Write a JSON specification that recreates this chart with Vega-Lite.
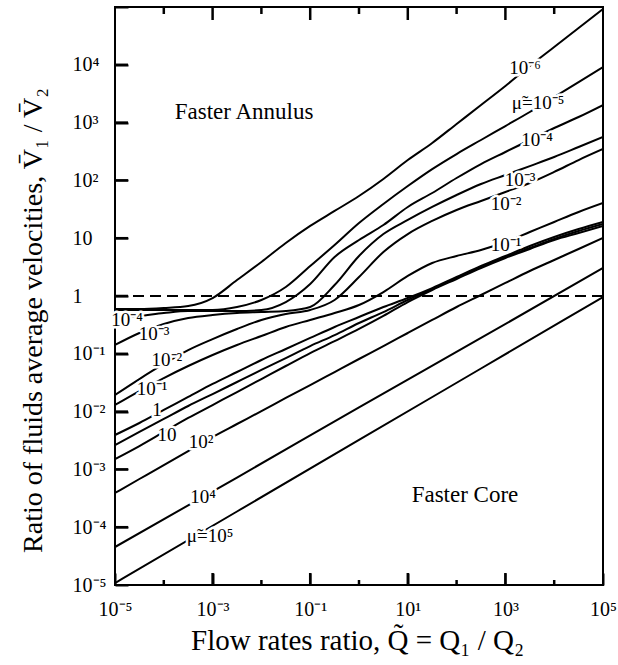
{
  "$schema": "https://vega.github.io/schema/vega-lite/v6.json",
  "width": 488,
  "height": 578,
  "autosize": {"type": "none"},
  "padding": {"left": 115, "top": 7, "right": 15, "bottom": 80},
  "background": "white",
  "config": {"view": {"stroke": "black", "strokeWidth": 2}},
  "datasets": {
    "curves": [
      {"mu":"1e-6","Q":1e-5,"V":0.596},{"mu":"1e-6","Q":3.162e-5,"V":0.596},{"mu":"1e-6","Q":1e-4,"V":0.62},{"mu":"1e-6","Q":3.162e-4,"V":0.671},{"mu":"1e-6","Q":0.001,"V":0.923},{"mu":"1e-6","Q":0.003162,"V":1.89},{"mu":"1e-6","Q":0.01,"V":3.88},{"mu":"1e-6","Q":0.03162,"V":8.26},{"mu":"1e-6","Q":0.1,"V":16.3},{"mu":"1e-6","Q":0.3162,"V":29.6},{"mu":"1e-6","Q":1,"V":53.7},{"mu":"1e-6","Q":3.162,"V":106},{"mu":"1e-6","Q":10,"V":225},{"mu":"1e-6","Q":31.62,"V":444},{"mu":"1e-6","Q":100,"V":946},{"mu":"1e-6","Q":316.2,"V":2015},{"mu":"1e-6","Q":1000,"V":4300},{"mu":"1e-6","Q":3162,"V":9530},{"mu":"1e-6","Q":10000,"V":20300},{"mu":"1e-6","Q":31620,"V":43300},{"mu":"1e-6","Q":100000,"V":92300},
      {"mu":"1e-5","Q":1e-5,"V":0.573},{"mu":"1e-5","Q":3.162e-5,"V":0.573},{"mu":"1e-5","Q":1e-4,"V":0.573},{"mu":"1e-5","Q":3.162e-4,"V":0.573},{"mu":"1e-5","Q":0.001,"V":0.573},{"mu":"1e-5","Q":0.003162,"V":0.645},{"mu":"1e-5","Q":0.01,"V":0.853},{"mu":"1e-5","Q":0.03162,"V":1.43},{"mu":"1e-5","Q":0.1,"V":3.3},{"mu":"1e-5","Q":0.3162,"V":7.62},{"mu":"1e-5","Q":1,"V":18.3},{"mu":"1e-5","Q":3.162,"V":39.1},{"mu":"1e-5","Q":10,"V":80},{"mu":"1e-5","Q":31.62,"V":157},{"mu":"1e-5","Q":100,"V":286},{"mu":"1e-5","Q":316.2,"V":500},{"mu":"1e-5","Q":1000,"V":873},{"mu":"1e-5","Q":3162,"V":1525},{"mu":"1e-5","Q":10000,"V":2773},{"mu":"1e-5","Q":31620,"V":5035},{"mu":"1e-5","Q":100000,"V":9160},
      {"mu":"1e-4","Q":1e-5,"V":0.416},{"mu":"1e-4","Q":3.162e-5,"V":0.451},{"mu":"1e-4","Q":1e-4,"V":0.508},{"mu":"1e-4","Q":3.162e-4,"V":0.55},{"mu":"1e-4","Q":0.001,"V":0.55},{"mu":"1e-4","Q":0.003162,"V":0.55},{"mu":"1e-4","Q":0.01,"V":0.573},{"mu":"1e-4","Q":0.03162,"V":0.787},{"mu":"1e-4","Q":0.1,"V":1.61},{"mu":"1e-4","Q":0.3162,"V":4.73},{"mu":"1e-4","Q":1,"V":9.31},{"mu":"1e-4","Q":3.162,"V":16.9},{"mu":"1e-4","Q":10,"V":34.7},{"mu":"1e-4","Q":31.62,"V":60.5},{"mu":"1e-4","Q":100,"V":110},{"mu":"1e-4","Q":316.2,"V":192},{"mu":"1e-4","Q":1000,"V":310},{"mu":"1e-4","Q":3162,"V":500},{"mu":"1e-4","Q":10000,"V":807},{"mu":"1e-4","Q":31620,"V":1250},{"mu":"1e-4","Q":100000,"V":2015},
      {"mu":"1e-3","Q":1e-5,"V":0.142},{"mu":"1e-3","Q":3.162e-5,"V":0.229},{"mu":"1e-3","Q":1e-4,"V":0.328},{"mu":"1e-3","Q":3.162e-4,"V":0.416},{"mu":"1e-3","Q":0.001,"V":0.469},{"mu":"1e-3","Q":0.003162,"V":0.508},{"mu":"1e-3","Q":0.01,"V":0.528},{"mu":"1e-3","Q":0.03162,"V":0.55},{"mu":"1e-3","Q":0.1,"V":0.645},{"mu":"1e-3","Q":0.3162,"V":1.55},{"mu":"1e-3","Q":1,"V":4.92},{"mu":"1e-3","Q":3.162,"V":11.8},{"mu":"1e-3","Q":10,"V":20.7},{"mu":"1e-3","Q":31.62,"V":34.7},{"mu":"1e-3","Q":100,"V":55.9},{"mu":"1e-3","Q":316.2,"V":86.7},{"mu":"1e-3","Q":1000,"V":124},{"mu":"1e-3","Q":3162,"V":177},{"mu":"1e-3","Q":10000,"V":254},{"mu":"1e-3","Q":31620,"V":378},{"mu":"1e-3","Q":100000,"V":564},
      {"mu":"1e-2","Q":1e-5,"V":0.0194},{"mu":"1e-2","Q":3.162e-5,"V":0.0366},{"mu":"1e-2","Q":1e-4,"V":0.0667},{"mu":"1e-2","Q":3.162e-4,"V":0.116},{"mu":"1e-2","Q":0.001,"V":0.18},{"mu":"1e-2","Q":0.003162,"V":0.269},{"mu":"1e-2","Q":0.01,"V":0.385},{"mu":"1e-2","Q":0.03162,"V":0.489},{"mu":"1e-2","Q":0.1,"V":0.573},{"mu":"1e-2","Q":0.3162,"V":0.853},{"mu":"1e-2","Q":1,"V":2.13},{"mu":"1e-2","Q":3.162,"V":5.77},{"mu":"1e-2","Q":10,"V":11.8},{"mu":"1e-2","Q":31.62,"V":19.9},{"mu":"1e-2","Q":100,"V":30.8},{"mu":"1e-2","Q":316.2,"V":44.1},{"mu":"1e-2","Q":1000,"V":63},{"mu":"1e-2","Q":3162,"V":90.2},{"mu":"1e-2","Q":10000,"V":140},{"mu":"1e-2","Q":31620,"V":225},{"mu":"1e-2","Q":100000,"V":349},
      {"mu":"1e-1","Q":1e-5,"V":0.013},{"mu":"1e-1","Q":3.162e-5,"V":0.0227},{"mu":"1e-1","Q":1e-4,"V":0.0381},{"mu":"1e-1","Q":3.162e-4,"V":0.0615},{"mu":"1e-1","Q":0.001,"V":0.0953},{"mu":"1e-1","Q":0.003162,"V":0.142},{"mu":"1e-1","Q":0.01,"V":0.203},{"mu":"1e-1","Q":0.03162,"V":0.291},{"mu":"1e-1","Q":0.1,"V":0.385},{"mu":"1e-1","Q":0.3162,"V":0.508},{"mu":"1e-1","Q":1,"V":0.698},{"mu":"1e-1","Q":3.162,"V":1.17},{"mu":"1e-1","Q":10,"V":2.22},{"mu":"1e-1","Q":31.62,"V":3.72},{"mu":"1e-1","Q":100,"V":4.92},{"mu":"1e-1","Q":316.2,"V":6.25},{"mu":"1e-1","Q":1000,"V":8.59},{"mu":"1e-1","Q":3162,"V":12.8},{"mu":"1e-1","Q":10000,"V":19.1},{"mu":"1e-1","Q":31620,"V":28.4},{"mu":"1e-1","Q":100000,"V":40.6},
      {"mu":"1","Q":1e-5,"V":0.00394},{"mu":"1","Q":3.162e-5,"V":0.00635},{"mu":"1","Q":1e-4,"V":0.0107},{"mu":"1","Q":3.162e-4,"V":0.0179},{"mu":"1","Q":0.001,"V":0.0301},{"mu":"1","Q":0.003162,"V":0.0484},{"mu":"1","Q":0.01,"V":0.0782},{"mu":"1","Q":0.03162,"V":0.121},{"mu":"1","Q":0.1,"V":0.188},{"mu":"1","Q":0.3162,"V":0.291},{"mu":"1","Q":1,"V":0.433},{"mu":"1","Q":3.162,"V":0.645},{"mu":"1","Q":10,"V":0.923},{"mu":"1","Q":31.62,"V":1.37},{"mu":"1","Q":100,"V":2.13},{"mu":"1","Q":316.2,"V":3.3},{"mu":"1","Q":1000,"V":4.92},{"mu":"1","Q":3162,"V":7.33},{"mu":"1","Q":10000,"V":10.5},{"mu":"1","Q":31620,"V":14.4},{"mu":"1","Q":100000,"V":19.1},
      {"mu":"unlabeled","Q":1e-5,"V":0.00264},{"mu":"unlabeled","Q":3.162e-5,"V":0.00444},{"mu":"unlabeled","Q":1e-4,"V":0.00745},{"mu":"unlabeled","Q":3.162e-4,"V":0.0125},{"mu":"unlabeled","Q":0.001,"V":0.0201},{"mu":"unlabeled","Q":0.003162,"V":0.0325},{"mu":"unlabeled","Q":0.01,"V":0.0525},{"mu":"unlabeled","Q":0.03162,"V":0.0845},{"mu":"unlabeled","Q":0.1,"V":0.136},{"mu":"unlabeled","Q":0.3162,"V":0.211},{"mu":"unlabeled","Q":1,"V":0.341},{"mu":"unlabeled","Q":3.162,"V":0.528},{"mu":"unlabeled","Q":10,"V":0.853},{"mu":"unlabeled","Q":31.62,"V":1.32},{"mu":"unlabeled","Q":100,"V":2.05},{"mu":"unlabeled","Q":316.2,"V":3.18},{"mu":"unlabeled","Q":1000,"V":4.73},{"mu":"unlabeled","Q":3162,"V":6.76},{"mu":"unlabeled","Q":10000,"V":9.68},{"mu":"unlabeled","Q":31620,"V":13.3},{"mu":"unlabeled","Q":100000,"V":17.6},
      {"mu":"10","Q":1e-5,"V":0.00151},{"mu":"10","Q":3.162e-5,"V":0.00254},{"mu":"10","Q":1e-4,"V":0.00444},{"mu":"10","Q":3.162e-4,"V":0.00775},{"mu":"10","Q":0.001,"V":0.013},{"mu":"10","Q":0.003162,"V":0.0218},{"mu":"10","Q":0.01,"V":0.0366},{"mu":"10","Q":0.03162,"V":0.0615},{"mu":"10","Q":0.1,"V":0.103},{"mu":"10","Q":0.3162,"V":0.166},{"mu":"10","Q":1,"V":0.269},{"mu":"10","Q":3.162,"V":0.451},{"mu":"10","Q":10,"V":0.787},{"mu":"10","Q":31.62,"V":1.27},{"mu":"10","Q":100,"V":1.97},{"mu":"10","Q":316.2,"V":3.05},{"mu":"10","Q":1000,"V":4.54},{"mu":"10","Q":3162,"V":6.5},{"mu":"10","Q":10000,"V":9.31},{"mu":"10","Q":31620,"V":12.3},{"mu":"10","Q":100000,"V":16.3},
      {"mu":"1e2","Q":1e-5,"V":0.000391},{"mu":"1e2","Q":3.162e-5,"V":0.000682},{"mu":"1e2","Q":1e-4,"V":0.00119},{"mu":"1e2","Q":3.162e-4,"V":0.00208},{"mu":"1e2","Q":0.001,"V":0.00364},{"mu":"1e2","Q":0.003162,"V":0.0061},{"mu":"1e2","Q":0.01,"V":0.0102},{"mu":"1e2","Q":0.03162,"V":0.0172},{"mu":"1e2","Q":0.1,"V":0.0288},{"mu":"1e2","Q":0.3162,"V":0.0484},{"mu":"1e2","Q":1,"V":0.0813},{"mu":"1e2","Q":3.162,"V":0.136},{"mu":"1e2","Q":10,"V":0.229},{"mu":"1e2","Q":31.62,"V":0.385},{"mu":"1e2","Q":100,"V":0.645},{"mu":"1e2","Q":316.2,"V":1.04},{"mu":"1e2","Q":1000,"V":1.68},{"mu":"1e2","Q":3162,"V":2.71},{"mu":"1e2","Q":10000,"V":4.2},{"mu":"1e2","Q":31620,"V":6.5},{"mu":"1e2","Q":100000,"V":10.1},
      {"mu":"1e4","Q":1e-5,"V":4.54e-5},{"mu":"1e4","Q":0.003162,"V":0.000724},{"mu":"1e4","Q":1,"V":0.0118},{"mu":"1e4","Q":316.2,"V":0.188},{"mu":"1e4","Q":100000,"V":3.05},
      {"mu":"1e5","Q":1e-5,"V":1.08e-5},{"mu":"1e5","Q":0.003162,"V":0.000187},{"mu":"1e5","Q":1,"V":0.00323},{"mu":"1e5","Q":316.2,"V":0.0557},{"mu":"1e5","Q":100000,"V":0.961}
    ],
    "labels": [
      {"t":"10⁻⁶","Q":2520,"V":8810},
      {"t":"μ̃=10⁻⁵","Q":4660,"V":2183},
      {"t":"10⁻⁴","Q":4450,"V":500},
      {"t":"10⁻³","Q":1990,"V":101.6},
      {"t":"10⁻²","Q":1028,"V":39.1},
      {"t":"10⁻¹","Q":1028,"V":7.62},
      {"t":"10⁻⁴","Q":1.76e-5,"V":0.39},
      {"t":"10⁻³","Q":6.3e-5,"V":0.22},
      {"t":"10⁻²","Q":1.16e-4,"V":0.0781},
      {"t":"10⁻¹","Q":5.73e-5,"V":0.0246},
      {"t":"1","Q":7.26e-5,"V":0.01066},
      {"t":"10","Q":1.16e-4,"V":0.00394},
      {"t":"10²","Q":5.78e-4,"V":0.00298},
      {"t":"10⁴","Q":6.35e-4,"V":0.000333},
      {"t":"μ̃=10⁵","Q":8.85e-4,"V":7.05e-5}
    ],
    "notes": [
      {"t":"Faster Annulus","Q":0.0044,"V":1525},
      {"t":"Faster Core","Q":148.6,"V":0.000361}
    ],
    "xmajor": [{"Q":0.001},{"Q":0.1},{"Q":10},{"Q":1000}],
    "xminor": [{"Q":1e-4},{"Q":0.01},{"Q":1},{"Q":100},{"Q":10000}],
    "ydecades": [{"V":1e-4},{"V":0.001},{"V":0.01},{"V":0.1},{"V":1},{"V":10},{"V":100},{"V":1000},{"V":10000}]
  },
  "resolve": {"axis": {"x": "independent", "y": "independent"}},
  "layer": [
    {
      "data": {"name": "curves"},
      "mark": {"type": "line", "color": "black", "strokeWidth": 2, "clip": true, "interpolate": "monotone"},
      "encoding": {
        "x": {
          "field": "Q", "type": "quantitative",
          "scale": {"type": "log", "domain": [1e-5, 100000], "nice": false},
          "axis": {
            "orient": "bottom", "offset": -12,
            "values": [1e-5, 0.001, 0.1, 10, 1000, 100000],
            "tickSize": 12, "tickColor": "black", "tickWidth": 2,
            "domain": false, "grid": false,
            "labelExpr": "['10⁻⁵','','10⁻³','','10⁻¹','','10¹','','10³','','10⁵'][round(log(datum.value)/LN10)+5]",
            "labelFont": "Liberation Serif", "labelFontSize": 20, "labelColor": "black",
            "labelBaseline": "alphabetic", "labelPadding": 30,
            "labelFlush": false, "labelOverlap": false, "labelBound": false,
            "title": "Flow rates ratio, Q̃ = Q₁ / Q₂",
            "titleFont": "Liberation Serif", "titleFontSize": 29, "titleFontWeight": "normal", "titleColor": "black",
            "titleX": 242, "titleY": 76, "titleBaseline": "alphabetic", "titleAlign": "center"
          }
        },
        "y": {
          "field": "V", "type": "quantitative",
          "scale": {"type": "log", "domain": [1e-5, 100000], "nice": false},
          "axis": {
            "orient": "left", "offset": -13,
            "values": [1e-5, 1e-4, 0.001, 0.01, 0.1, 1, 10, 100, 1000, 10000, 100000],
            "tickSize": 13, "tickColor": "black", "tickWidth": 2,
            "domain": false, "grid": false,
            "labelExpr": "['10⁻⁵','10⁻⁴','10⁻³','10⁻²','10⁻¹',' 1','10','10²','10³','10⁴',''][round(log(datum.value)/LN10)+5]",
            "labelFont": "Liberation Serif", "labelFontSize": 20, "labelColor": "black",
            "labelAlign": "left", "labelBaseline": "middle", "labelPadding": 43,
            "labelFlush": false, "labelOverlap": false, "labelBound": false,
            "title": "Ratio of fluids average velocities, V̄₁ / V̄₂",
            "titleFont": "Liberation Serif", "titleFontSize": 28, "titleFontWeight": "normal", "titleColor": "black",
            "titleX": -87, "titleY": 313, "titleAngle": -90, "titleBaseline": "alphabetic", "titleAlign": "center"
          }
        },
        "detail": {"field": "mu"},
        "order": {"field": "Q", "type": "quantitative"}
      }
    },
    {
      "data": {"values": [{"V": 1}]},
      "mark": {"type": "rule", "color": "black", "strokeWidth": 1.8, "strokeDash": [11, 6]},
      "encoding": {"y": {"field": "V", "type": "quantitative", "axis": null}}
    },
    {
      "data": {"name": "xmajor"},
      "mark": {"type": "rule", "color": "black", "strokeWidth": 2.5},
      "encoding": {
        "x": {"field": "Q", "type": "quantitative", "axis": null},
        "y": {"datum": 1e-5, "type": "quantitative", "axis": null},
        "y2": {"datum": 1.613e-5}
      }
    },
    {
      "data": {"name": "xminor"},
      "mark": {"type": "rule", "color": "black", "strokeWidth": 2.5},
      "encoding": {
        "x": {"field": "Q", "type": "quantitative", "axis": null},
        "y": {"datum": 1e-5, "type": "quantitative", "axis": null},
        "y2": {"datum": 1.22e-5}
      }
    },
    {
      "data": {"name": "xmajor"},
      "mark": {"type": "rule", "color": "black", "strokeWidth": 2.5},
      "encoding": {
        "x": {"field": "Q", "type": "quantitative", "axis": null},
        "y": {"datum": 100000, "type": "quantitative", "axis": null},
        "y2": {"datum": 59600}
      }
    },
    {
      "data": {"name": "xminor"},
      "mark": {"type": "rule", "color": "black", "strokeWidth": 2.5},
      "encoding": {
        "x": {"field": "Q", "type": "quantitative", "axis": null},
        "y": {"datum": 100000, "type": "quantitative", "axis": null},
        "y2": {"datum": 75700}
      }
    },
    {
      "data": {"name": "ydecades"},
      "mark": {"type": "rule", "color": "black", "strokeWidth": 2.5},
      "encoding": {
        "y": {"field": "V", "type": "quantitative", "axis": null},
        "x": {"datum": 1e-5, "type": "quantitative", "axis": null},
        "x2": {"datum": 1.846e-5}
      }
    },
    {
      "data": {"name": "labels"},
      "mark": {"type": "text", "font": "Liberation Serif", "fontSize": 19, "color": "white", "fill": "white", "stroke": "white", "strokeWidth": 5, "strokeJoin": "round", "baseline": "middle", "align": "center"},
      "encoding": {
        "x": {"field": "Q", "type": "quantitative", "axis": null},
        "y": {"field": "V", "type": "quantitative", "axis": null},
        "text": {"field": "t"}
      }
    },
    {
      "data": {"name": "labels"},
      "mark": {"type": "text", "font": "Liberation Serif", "fontSize": 19, "color": "black", "baseline": "middle", "align": "center"},
      "encoding": {
        "x": {"field": "Q", "type": "quantitative", "axis": null},
        "y": {"field": "V", "type": "quantitative", "axis": null},
        "text": {"field": "t"}
      }
    },
    {
      "data": {"name": "notes"},
      "mark": {"type": "text", "font": "Liberation Serif", "fontSize": 23, "color": "black", "baseline": "middle", "align": "center"},
      "encoding": {
        "x": {"field": "Q", "type": "quantitative", "axis": null},
        "y": {"field": "V", "type": "quantitative", "axis": null},
        "text": {"field": "t"}
      }
    }
  ]
}
